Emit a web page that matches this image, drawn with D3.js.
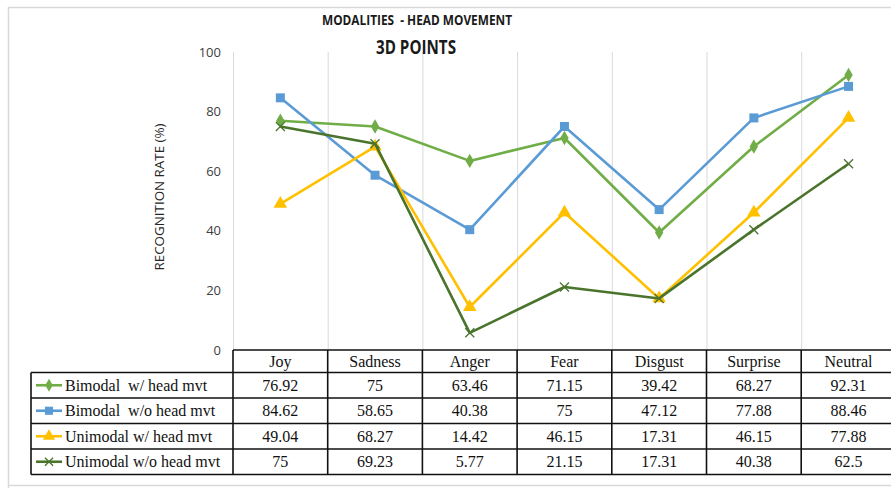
<!DOCTYPE html>
<html>
<head>
<meta charset="utf-8">
<script src="https://cdn.jsdelivr.net/npm/d3@7"></script>
<style>
  html, body { margin: 0; padding: 0; background: #fff; }
  svg { display: block; }
  text { white-space: pre; }
</style>
</head>
<body>
<svg id="chart" width="891" height="488"></svg>
<script>
const categories = ["Joy", "Sadness", "Anger", "Fear", "Disgust", "Surprise", "Neutral"];
const seriesNames = ["Bimodal  w/ head mvt", "Bimodal  w/o head mvt", "Unimodal w/ head mvt", "Unimodal w/o head mvt"];
const bimodalWith = [76.92, 75, 63.46, 71.15, 39.42, 68.27, 92.31];
const bimodalWithout = [84.62, 58.65, 40.38, 75, 47.12, 77.88, 88.46];
const unimodalWith = [49.04, 68.27, 14.42, 46.15, 17.31, 46.15, 77.88];
const unimodalWithout = [75, 69.23, 5.77, 21.15, 17.31, 40.38, 62.5];
const yTicks = [0, 20, 40, 60, 80, 100];

const series = [
  { name: seriesNames[0], values: bimodalWith, color: "#70ad47", marker: "diamond" },
  { name: seriesNames[1], values: bimodalWithout, color: "#5b9bd5", marker: "square" },
  { name: seriesNames[2], values: unimodalWith, color: "#ffc000", marker: "triangle" },
  { name: seriesNames[3], values: unimodalWithout, color: "#4a742c", marker: "x" },
];

const plotLeft = 233;
const plotTop = 52;
const plotBottom = 350;
const colWidth = 94.7;
const rowH = 25.5;
const headerH = 22.5;
const legendLeft = 31;

const svg = d3.select("#chart");

// outer chart border (cropped on the right)
svg.append("path")
  .attr("d", "M8.5,900 L8.5,7.5 L900,7.5 M8.5,485.5 L900,485.5")
  .attr("fill", "none")
  .attr("stroke", "#d9d9d9")
  .attr("stroke-width", 1.5);

const x = d3.scaleBand()
  .domain(categories)
  .range([plotLeft, plotLeft + colWidth * categories.length])
  .paddingInner(0)
  .paddingOuter(0);

const y = d3.scaleLinear()
  .domain([0, 100])
  .range([plotBottom, plotTop]);

// vertical gridlines at category boundaries
const bounds = categories.map((c) => x(c));
svg.append("g")
  .selectAll("line")
  .data(bounds)
  .join("line")
  .attr("x1", (d) => d + 0.5)
  .attr("x2", (d) => d + 0.5)
  .attr("y1", plotTop)
  .attr("y2", plotBottom)
  .attr("stroke", "#d9d9d9")
  .attr("stroke-width", 1);

// y axis labels only
const yAxis = svg.append("g")
  .attr("transform", `translate(${plotLeft},0)`)
  .call(d3.axisLeft(y).tickValues(yTicks).tickSize(0).tickPadding(12));
yAxis.select(".domain").remove();
yAxis.selectAll("text")
  .attr("font-family", "'Open Sans', sans-serif")
  .attr("font-size", 13)
  .attr("fill", "#404040");

svg.append("text")
  .attr("transform", "translate(164,197) rotate(-90)")
  .attr("text-anchor", "middle")
  .attr("font-family", "'Open Sans', sans-serif")
  .attr("font-size", 13)
  .attr("textLength", 147)
  .attr("lengthAdjust", "spacingAndGlyphs")
  .attr("fill", "#262626")
  .text("RECOGNITION RATE (%)");

// titles
svg.append("text")
  .attr("x", 417)
  .attr("y", 25)
  .attr("text-anchor", "middle")
  .attr("font-family", "'Open Sans', sans-serif")
  .attr("font-weight", 700)
  .attr("font-size", 13.5)
  .attr("textLength", 190)
  .attr("lengthAdjust", "spacingAndGlyphs")
  .attr("fill", "#1a1a1a")
  .text("MODALITIES  - HEAD MOVEMENT");

svg.append("text")
  .attr("x", 416)
  .attr("y", 54)
  .attr("text-anchor", "middle")
  .attr("font-family", "'Open Sans', sans-serif")
  .attr("font-weight", 700)
  .attr("font-size", 19)
  .attr("textLength", 80)
  .attr("lengthAdjust", "spacingAndGlyphs")
  .attr("fill", "#1a1a1a")
  .text("3D POINTS");

const cx = (c) => x(c) + x.bandwidth() / 2;

function drawMarker(g, type, color, px, py, scale) {
  const s = scale || 1;
  if (type === "diamond") {
    g.append("path")
      .attr("d", d3.symbol(d3.symbolDiamond, 60 * s * s)())
      .attr("transform", `translate(${px},${py})`)
      .attr("fill", color);
  } else if (type === "square") {
    g.append("rect")
      .attr("x", px - 4.5 * s).attr("y", py - 4.5 * s)
      .attr("width", 9 * s).attr("height", 9 * s)
      .attr("fill", color);
  } else if (type === "triangle") {
    g.append("path")
      .attr("d", d3.symbol(d3.symbolTriangle, 80 * s * s)())
      .attr("transform", `translate(${px},${py})`)
      .attr("fill", color);
  } else {
    const r = 4.5 * s;
    g.append("path")
      .attr("d", `M${px - r},${py - r}L${px + r},${py + r}M${px - r},${py + r}L${px + r},${py - r}`)
      .attr("stroke", color)
      .attr("stroke-width", 1.3)
      .attr("fill", "none");
  }
}

const line = d3.line()
  .x((d, i) => cx(categories[i]))
  .y((d) => y(d));

const lines = svg.append("g");
series.forEach((s) => {
  const g = lines.append("g");
  g.append("path")
    .datum(s.values)
    .attr("fill", "none")
    .attr("stroke", s.color)
    .attr("stroke-width", 2.6)
    .attr("stroke-linejoin", "round")
    .attr("d", line);
  s.values.forEach((v, i) => drawMarker(g, s.marker, s.color, cx(categories[i]), y(v)));
});

// data table
const table = svg.append("g");
const tableRight = x.range()[1];
const headerTop = plotBottom;
const bodyTop = headerTop + headerH;

table.append("g")
  .selectAll("text")
  .data(categories)
  .join("text")
  .attr("x", (c) => cx(c))
  .attr("y", headerTop + 17)
  .attr("text-anchor", "middle")
  .attr("font-family", "'Liberation Serif', serif")
  .attr("font-size", 16)
  .attr("fill", "#111")
  .text((c) => c);

series.forEach((s, r) => {
  const rowTop = bodyTop + r * rowH;
  table.append("line")
    .attr("x1", legendLeft + 5).attr("x2", legendLeft + 31)
    .attr("y1", rowTop + rowH / 2).attr("y2", rowTop + rowH / 2)
    .attr("stroke", s.color).attr("stroke-width", 2.6);
  drawMarker(table, s.marker, s.color, legendLeft + 18, rowTop + rowH / 2, 0.9);
  table.append("text")
    .attr("x", legendLeft + 34)
    .attr("y", rowTop + 18)
    .attr("font-family", "'Liberation Serif', serif")
    .attr("font-size", 16)
    .attr("fill", "#111")
    .text(s.name);
  s.values.forEach((v, i) => {
    table.append("text")
      .attr("x", cx(categories[i]))
      .attr("y", rowTop + 18)
      .attr("text-anchor", "middle")
      .attr("font-family", "'Liberation Serif', serif")
      .attr("font-size", 16)
      .attr("fill", "#111")
      .text(v);
  });
});

// table grid
const tableBottom = bodyTop + series.length * rowH;
const gridStroke = { stroke: "#111", width: 1.6 };
const hLines = [
  { x1: plotLeft, y: headerTop },
  { x1: legendLeft, y: bodyTop },
];
series.forEach((s, r) => hLines.push({ x1: legendLeft, y: bodyTop + (r + 1) * rowH }));
table.append("g")
  .selectAll("line")
  .data(hLines)
  .join("line")
  .attr("x1", (d) => d.x1).attr("x2", tableRight)
  .attr("y1", (d) => d.y).attr("y2", (d) => d.y)
  .attr("stroke", gridStroke.stroke).attr("stroke-width", gridStroke.width);

const vLines = [{ x: legendLeft, y1: bodyTop }]
  .concat(categories.map((c) => ({ x: x(c), y1: headerTop })));
table.append("g")
  .selectAll("line")
  .data(vLines)
  .join("line")
  .attr("x1", (d) => d.x).attr("x2", (d) => d.x)
  .attr("y1", (d) => d.y1).attr("y2", tableBottom)
  .attr("stroke", gridStroke.stroke).attr("stroke-width", gridStroke.width);
</script>
</body>
</html>
